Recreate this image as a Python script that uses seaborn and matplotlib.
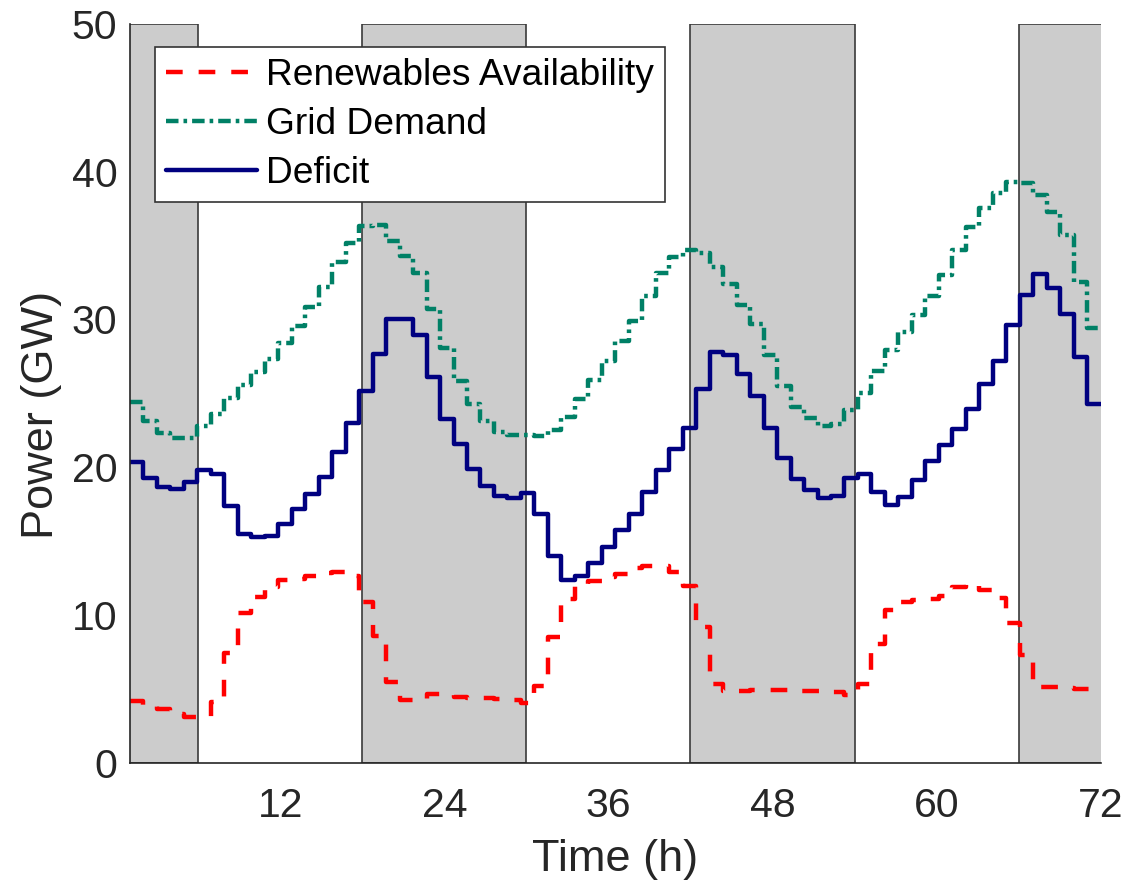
import numpy as np
import pandas as pd
import matplotlib
matplotlib.use("Agg")
import matplotlib.pyplot as plt
import seaborn as sns

# ---------------- data (hourly steps, 72 values per series) ----------------
renewables = [
    4.19, 3.80, 3.62, 3.25, 3.10, 3.10, 4.12, 7.39, 10.10, 11.18,
    11.91, 12.36, 12.40, 12.63, 12.80, 12.88, 12.60, 10.90, 8.58, 5.45,
    4.23, 4.25, 4.62, 4.66, 4.43, 4.40, 4.39, 4.32, 4.20, 4.05,
    5.15, 8.50, 11.10, 12.05, 12.30, 12.55, 12.75, 13.15, 13.30, 13.30,
    12.90, 11.97, 9.20, 5.30, 4.85, 4.85, 4.90, 4.90, 4.88, 4.85,
    4.85, 4.85, 4.80, 4.60, 5.30, 8.00, 10.30, 10.90, 11.00, 11.05,
    11.25, 11.85, 12.10, 11.68, 11.12, 9.42, 7.25, 5.10, 5.10, 5.05,
    4.95, 4.95]

demand = [
    24.39, 23.09, 22.29, 21.94, 21.98, 22.79, 23.59, 24.69, 25.54, 26.41,
    27.32, 28.42, 29.57, 30.87, 32.22, 33.87, 35.20, 36.30, 36.36, 35.29,
    34.30, 33.16, 30.71, 28.05, 25.83, 24.27, 23.09, 22.40, 22.20, 22.20,
    22.10, 22.54, 23.42, 24.61, 25.92, 27.16, 28.55, 29.90, 31.58, 33.11,
    34.20, 34.68, 34.49, 33.52, 32.38, 30.99, 29.71, 27.60, 25.46, 24.05,
    23.33, 22.79, 22.91, 23.88, 25.00, 26.49, 27.92, 29.17, 30.33, 31.61,
    32.98, 34.70, 36.25, 37.55, 38.55, 39.30, 39.22, 38.42, 37.30, 35.73,
    32.56, 29.39]

deficit = [
    20.34, 19.27, 18.67, 18.51, 18.97, 19.77, 19.50, 17.37, 15.47, 15.24,
    15.35, 16.15, 17.14, 18.21, 19.31, 21.03, 22.97, 25.15, 27.67, 30.02,
    30.02, 28.97, 26.13, 23.25, 21.55, 19.88, 18.74, 18.05, 17.94, 18.28,
    16.84, 13.98, 12.35, 12.63, 13.53, 14.60, 15.77, 16.85, 18.30, 19.80,
    21.20, 22.65, 25.27, 27.77, 27.60, 26.31, 24.78, 22.62, 20.61, 19.20,
    18.47, 17.89, 18.06, 19.27, 19.52, 18.30, 17.45, 17.99, 19.10, 20.41,
    21.53, 22.60, 23.96, 25.66, 27.16, 29.59, 31.65, 33.06, 32.14, 30.36,
    27.45, 24.25]

series_names = ["Renewables Availability", "Grid Demand", "Deficit"]
x_ticks = [12, 24, 36, 48, 60, 72]
y_ticks = [0, 10, 20, 30, 40, 50]
night_start = [-6, 18, 42, 66]
night_end = [6, 30, 54, 78]
t_start, t_end = 1, 72

# ---------------- long table for seaborn ----------------
edges = np.linspace(t_start, t_end, len(deficit) + 1)
rows = []
for name, vals in zip(series_names, [renewables, demand, deficit]):
    yv = list(vals) + [vals[-1]]
    for t, v in zip(edges, yv):
        rows.append((name, t, v))
df = pd.DataFrame(rows, columns=["series", "time", "power"])

# ---------------- style ----------------
sns.set_theme(style="white")
plt.rcParams["font.family"] = ["Liberation Sans", "DejaVu Sans"]
plt.rcParams["lines.scale_dashes"] = False
txt = "#262626"

W, H = 1127, 889
fig = plt.figure(figsize=(W / 100, H / 100), dpi=100)
ax_l, ax_r, ax_t, ax_b = 130, 1100.6, 24, 762.5
ax = fig.add_axes([ax_l / W, 1 - ax_b / H, (ax_r - ax_l) / W, (ax_b - ax_t) / H])

for a, b in zip(night_start, night_end):
    ax.axvspan(a, b, facecolor="#cccccc", edgecolor="#3a3a3a", lw=1.2, zorder=0.5)

palette = {"Renewables Availability": "#ff0000",
           "Grid Demand": "#008066",
           "Deficit": "#000080"}
dashes = {"Renewables Availability": (12.0, 11.5),
          "Grid Demand": (9.0, 3.6, 2.6, 3.6),
          "Deficit": ""}

sns.lineplot(data=df, x="time", y="power", hue="series", style="series",
             hue_order=series_names, style_order=series_names,
             palette=palette, dashes=dashes, drawstyle="steps-post",
             estimator=None, errorbar=None, linewidth=3.2, legend=False,
             ax=ax, zorder=3)

ax.set_xlim(t_start, t_end)
ax.set_ylim(0, 50)
ax.set_xticks(x_ticks)
ax.set_yticks(y_ticks)
ax.tick_params(axis="both", direction="in", length=7.5, width=1.0,
               colors=txt, labelsize=29.5, labelcolor=txt)
ax.tick_params(axis="x", pad=17.5)
ax.tick_params(axis="y", pad=9)

for s in ["top", "right"]:
    ax.spines[s].set_visible(False)
for s in ["left", "bottom"]:
    ax.spines[s].set_color(txt)
    ax.spines[s].set_linewidth(1.2)
    ax.spines[s].set_zorder(4)

ax.set_xlabel("Time (h)", fontsize=32.5, color=txt)
ax.set_ylabel("Power (GW)", fontsize=32.5, color=txt)
ax.xaxis.set_label_coords(0.5, -0.104)
ax.yaxis.set_label_coords(-0.070, 0.47)

handles = ax.get_lines()[:3]
leg = ax.legend(handles, series_names, loc="upper left",
                bbox_to_anchor=((155 - ax_l) / (ax_r - ax_l), (ax_b - 47) / (ax_b - ax_t)),
                borderaxespad=0, fontsize=26.7, frameon=True, fancybox=False,
                framealpha=1, edgecolor="#333333", handlelength=2.45,
                handletextpad=0.25, borderpad=0.3, labelspacing=0.37)
leg.get_frame().set_linewidth(1.2)
leg.set_zorder(5)
for t in leg.get_texts():
    t.set_color("black")

fig.savefig("out.png", dpi=100, facecolor="white")
